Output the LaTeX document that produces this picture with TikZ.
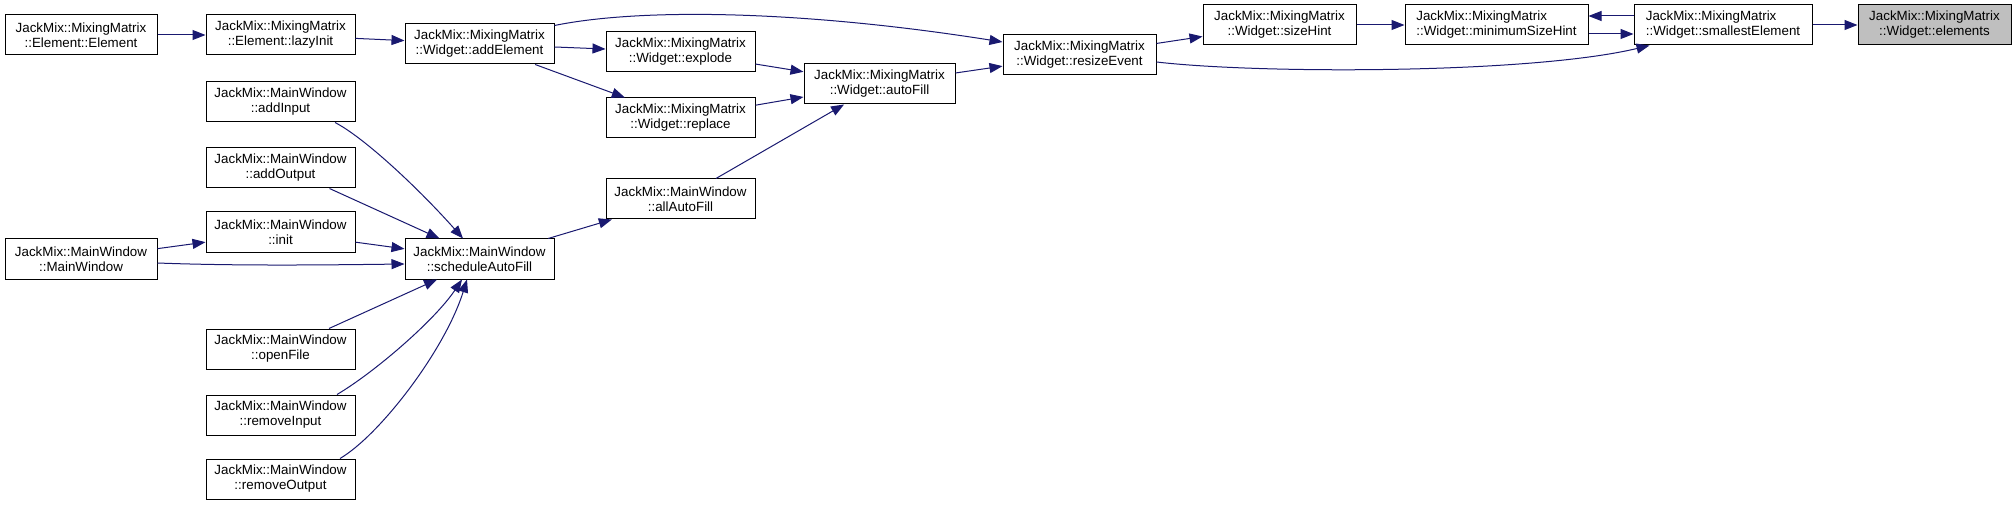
\documentclass[tikz,border=0pt]{standalone}
\usepackage{fontspec}
\setmainfont{Liberation Sans}
\usetikzlibrary{arrows.meta}
\definecolor{edgeblue}{HTML}{191970}
\definecolor{hlgrey}{HTML}{BFBFBF}
\begin{document}
\begin{tikzpicture}[x=1pt,y=-1pt,
  fn/.style={draw=black, line width=1pt, fill=white, rectangle, minimum height=40pt,
    minimum width=149pt, inner sep=0pt, align=center, font=\fontsize{13.35}{15}\selectfont},
  fnleft/.style={fn, align=left},
  current/.style={fill=hlgrey},
  call/.style={draw=edgeblue, line width=1pt, -{Triangle[length=13pt,width=10pt]}}
]
\useasboundingbox (0,0) rectangle (2016,505);
\fill[white] (0,0) rectangle (2016,505);

% nodes
\node[fn, minimum width=152pt] (eeE) at (81,35) {JackMix::MixingMatrix\\::Element::Element};
\node[fn] (lazy) at (280.5,35) {JackMix::MixingMatrix\\::Element::lazyInit};
\node[fn] (addEl) at (479.5,44) {JackMix::MixingMatrix\\::Widget::addElement};
\node[fn] (addIn) at (280.5,102) {JackMix::MainWindow\\::addInput};
\node[fn] (addOut) at (280.5,168) {JackMix::MainWindow\\::addOutput};
\node[fn] (init) at (280.5,232) {JackMix::MainWindow\\::init};
\node[fn, minimum width=152pt] (mainw) at (81,259) {JackMix::MainWindow\\::MainWindow};
\node[fn] (sched) at (479.5,259) {JackMix::MainWindow\\::scheduleAutoFill};
\node[fn] (openF) at (280.5,349) {JackMix::MainWindow\\::openFile};
\node[fn] (remIn) at (280.5,415) {JackMix::MainWindow\\::removeInput};
\node[fn] (remOut) at (280.5,479) {JackMix::MainWindow\\::removeOutput};
\node[fn] (explode) at (680.5,52) {JackMix::MixingMatrix\\::Widget::explode};
\node[fn] (replace) at (680.5,118) {JackMix::MixingMatrix\\::Widget::replace};
\node[fn] (allAF) at (680.5,199) {JackMix::MainWindow\\::allAutoFill};
\node[fn, minimum width=151pt] (autoFill) at (879.5,84) {JackMix::MixingMatrix\\::Widget::autoFill};
\node[fn, minimum width=153pt] (resize) at (1079.5,55) {JackMix::MixingMatrix\\::Widget::resizeEvent};
\node[fn, minimum width=153pt] (sizeHint) at (1279.5,25) {JackMix::MixingMatrix\\::Widget::sizeHint};
\node[fnleft, minimum width=183pt] (minSH) at (1496.5,25) {JackMix::MixingMatrix\\::Widget::minimumSizeHint};
\node[fnleft, minimum width=178pt] (smallE) at (1723,25) {JackMix::MixingMatrix\\::Widget::smallestElement};
\node[fn, current, minimum width=153pt] (elements) at (1934.5,25) {JackMix::MixingMatrix\\::Widget::elements};

% edges
\draw[call] (eeE) -- (lazy);
\draw[call] (lazy) -- (addEl);
\draw[call] (addEl) -- (explode);
\draw[call] (addEl) -- (replace);
\draw[call] ([yshift=-2pt]addEl.north east) .. controls (640,8) and (800,10) .. ([yshift=13pt]resize.west);
\draw[call] (explode) -- (autoFill);
\draw[call] (replace) -- (autoFill);
\draw[call] (allAF) -- (autoFill);
\draw[call] (autoFill) -- (resize);
\draw[call] (resize) -- (sizeHint);
\draw[call] ([yshift=-7pt]resize.east) .. controls (1260,74) and (1530,74) .. ([xshift=16pt]smallE.south west);
\draw[call] (sizeHint) -- (minSH);
\draw[call] ([yshift=9pt]smallE.west) -- ([yshift=9pt]minSH.east);
\draw[call] ([yshift=-9pt]minSH.east) -- ([yshift=-9pt]smallE.west);
\draw[call] (smallE) -- (elements);
\draw[call] (sched) -- (allAF);
\draw[call] ([xshift=54.5pt]addIn.south) .. controls (365,138) and (420,190) .. ([xshift=-16.5pt]sched.north);
\draw[call] ([xshift=49pt]addOut.south) -- ([xshift=-40pt]sched.north);
\draw[call] (init) -- (sched);
\draw[call] (mainw) -- (init);
\draw[call] ([yshift=-4pt]mainw.east) .. controls +(80,3) and +(-80,1) .. ([yshift=-5pt]sched.west);
\draw[call] ([xshift=48.5pt]openF.north) -- ([xshift=-42.5pt]sched.south);
\draw[call] ([xshift=56.5pt]remIn.north) .. controls (375,372) and (435,320) .. ([xshift=-17.5pt]sched.south);
\draw[call] ([xshift=59.5pt]remOut.north) .. controls (380,435) and (445,350) .. ([xshift=-12.5pt]sched.south);
\end{tikzpicture}
\end{document}
